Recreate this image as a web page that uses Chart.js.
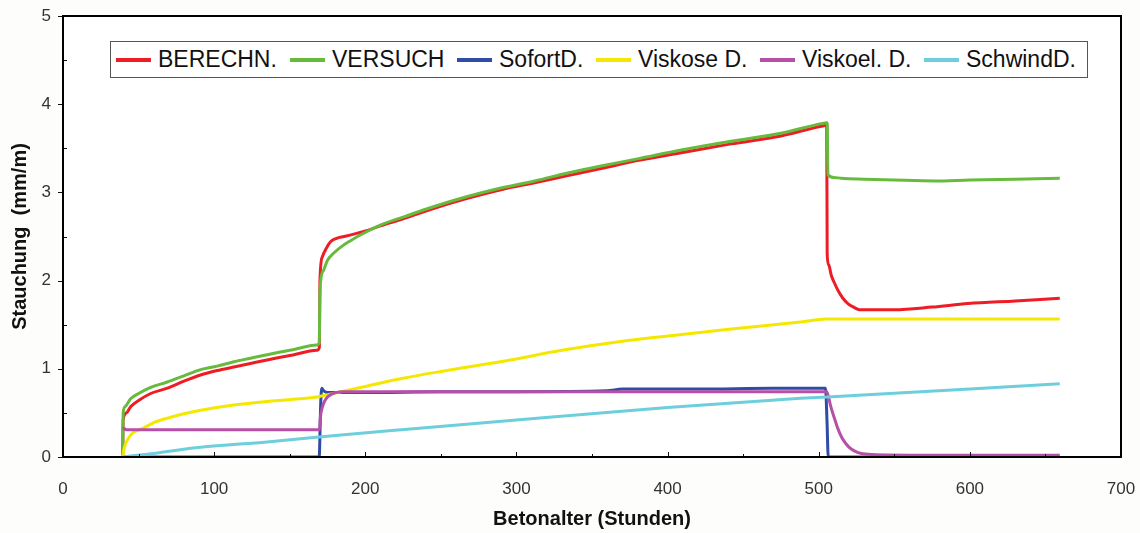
<!DOCTYPE html>
<html>
<head>
<meta charset="utf-8">
<script src="https://cdn.jsdelivr.net/npm/chart.js@4/dist/chart.umd.min.js"></script>
<style>
  html, body { margin: 0; padding: 0; background: #fdfdfb; }
  #wrap { position: relative; width: 1140px; height: 533px; }
  #legend {
    position: absolute; left: 110px; top: 41px; width: 976px; height: 35px;
    border: 1px solid #555; background: #fff;
    font-family: "Liberation Sans", Arial, sans-serif; font-size: 23px; color: #111;
  }
  .lg-item { position: absolute; top: 0; height: 35px; display: flex; align-items: center; white-space: nowrap; }
  .lg-line { width: 35px; height: 4px; margin-right: 7px; }
</style>
</head>
<body>
<div id="wrap">
  <canvas id="chart" width="1140" height="533"></canvas>
  <div id="legend"></div>
</div>
<script>
// Creep test: computed vs measured compression and its components over concrete age.

const LABELS = ["BERECHN.", "VERSUCH", "SofortD.", "Viskose D.", "Viskoel. D.", "SchwindD."];
const COLORS = ["#ee1c24", "#66bb3d", "#2f4ca6", "#f4e800", "#b64fa6", "#6dcfdc"];

const X_TICKS = [0, 100, 200, 300, 400, 500, 600, 700];
const Y_TICKS = [0, 1, 2, 3, 4, 5];

// BERECHN. (computed)
const berechnX = [39.5, 39.8, 42, 44.7, 50, 58, 69, 80, 91, 102, 113, 124, 135, 150, 168, 169.6,
  170, 171.6, 174, 177, 181, 186, 193, 201.5, 210, 225, 245.6, 267, 289.7, 312, 334, 356, 380,
  409, 442, 475, 501.7, 505.3, 505.6, 506.6, 508.3, 510.5, 512.7, 516, 519.3, 523, 527, 535, 550, 575,
  598.8, 630, 659.5];
const berechnY = [0, 0.42, 0.50, 0.57, 0.64, 0.72, 0.78, 0.86, 0.93, 0.98, 1.02, 1.06, 1.10, 1.15, 1.21, 1.24,
  2.0, 2.27, 2.36, 2.44, 2.48, 2.50, 2.53, 2.57, 2.62, 2.70, 2.82, 2.93, 3.03, 3.11, 3.19, 3.27, 3.36,
  3.45, 3.55, 3.64, 3.75, 3.76, 2.30, 2.18, 2.06, 1.97, 1.89, 1.80, 1.74, 1.70, 1.67, 1.67, 1.67, 1.70,
  1.74, 1.77, 1.80];

// VERSUCH (measured)
const versuchX = [39.5, 39.8, 41, 44.7, 50, 58, 69, 80, 91, 102, 113, 124, 135, 150, 168, 169.6,
  169.9, 170.5, 172.5, 175, 179, 183.8, 190, 197, 210, 225, 245.6, 267, 289.7, 312, 334, 356, 380,
  409, 442, 475, 501.7, 505.6, 506.1, 510, 515, 530, 550, 576.7, 600, 630, 659.5];
const versuchY = [0, 0.50, 0.57, 0.66, 0.72, 0.79, 0.85, 0.92, 0.99, 1.03, 1.08, 1.12, 1.16, 1.21, 1.27, 1.30,
  1.78, 2.0, 2.12, 2.23, 2.31, 2.38, 2.45, 2.52, 2.63, 2.72, 2.84, 2.95, 3.05, 3.13, 3.22, 3.30, 3.38,
  3.48, 3.58, 3.67, 3.78, 3.79, 3.20, 3.17, 3.16, 3.15, 3.14, 3.13, 3.14, 3.15, 3.16];

// SofortD. (instant)
const sofortX = [39.5, 169.5, 170.5, 171.2, 172.5, 175, 200, 250, 300, 360, 370, 420, 470, 504.5, 505.5, 506.3, 659.5];
const sofortY = [0, 0, 0.60, 0.78, 0.75, 0.73, 0.73, 0.74, 0.74, 0.75, 0.77, 0.77, 0.78, 0.78, 0.40, 0, 0];

// Viskose D. (viscous)
const viskoseX = [39.5, 40.5, 42.5, 46, 53.5, 60, 69, 80, 91, 113, 135, 150, 168, 176, 184, 200,
  224, 250, 296, 330, 369, 405, 442, 488, 505, 659.5];
const viskoseY = [0, 0.10, 0.19, 0.27, 0.33, 0.39, 0.44, 0.49, 0.53, 0.59, 0.63, 0.65, 0.68, 0.71, 0.74, 0.80,
  0.89, 0.97, 1.10, 1.21, 1.31, 1.38, 1.45, 1.53, 1.565, 1.565];

// Viskoel. D. (visco-elastic)
const viskoelX = [39.5, 42, 169.7, 170.3, 171.5, 173, 175, 177.5, 180.5, 185, 250, 360, 380, 505.3,
  506.5, 508, 510, 512.5, 515, 518, 521.5, 526, 532.6, 560, 600, 659.5];
const viskoelY = [0.33, 0.31, 0.31, 0.45, 0.56, 0.63, 0.68, 0.71, 0.73, 0.74, 0.74, 0.74, 0.74, 0.74,
  0.68, 0.57, 0.46, 0.33, 0.23, 0.15, 0.09, 0.05, 0.03, 0.02, 0.02, 0.02];

// SchwindD. (shrinkage)
const schwindX = [39.5, 60, 91, 135, 184, 224, 300, 400, 488, 515, 600, 659.5];
const schwindY = [0, 0.04, 0.11, 0.17, 0.25, 0.31, 0.42, 0.56, 0.665, 0.69, 0.77, 0.83];

const SERIES_X = [berechnX, versuchX, sofortX, viskoseX, viskoelX, schwindX];
const SERIES_Y = [berechnY, versuchY, sofortY, viskoseY, viskoelY, schwindY];

// legend sample positions (px inside the box)
const LEGEND_LEFT = [5, 179, 346, 485, 649, 813];

const FONT = "'Liberation Sans', Arial, sans-serif";
Chart.defaults.font.family = FONT;

// plot frame + Excel-like tick marks (major y outside, rest inside)
const frameTicks = {
  id: "frameTicks",
  beforeDatasetsDraw(chart) {
    const a = chart.chartArea, ctx = chart.ctx;
    ctx.save();
    ctx.fillStyle = "#ffffff";
    ctx.fillRect(a.left, a.top, a.right - a.left, a.bottom - a.top);
    ctx.restore();
  },
  afterDatasetsDraw(chart) {
    const a = chart.chartArea, ctx = chart.ctx;
    const xs = chart.scales.x, ys = chart.scales.y;
    ctx.save();
    ctx.strokeStyle = "#111";
    ctx.lineWidth = 1;
    ctx.beginPath();
    for (let v = 0; v <= 5; v += 0.5) {
      const py = Math.round(ys.getPixelForValue(v)) + 0.5;
      if (v % 1 === 0) { ctx.moveTo(a.left - 5, py); ctx.lineTo(a.left, py); }
      else { ctx.moveTo(a.left, py); ctx.lineTo(a.left + 4, py); }
    }
    for (let v = 50; v < 700; v += 50) {
      const px = Math.round(xs.getPixelForValue(v)) + 0.5;
      ctx.moveTo(px, a.bottom);
      ctx.lineTo(px, a.bottom - (v % 100 === 0 ? 5 : 3));
    }
    ctx.stroke();
    ctx.lineWidth = 2;
    ctx.strokeStyle = "#000";
    ctx.strokeRect(a.left, a.top, a.right - a.left, a.bottom - a.top);
    ctx.restore();
  }
};

const datasets = LABELS.map(function (label, i) {
  return {
    label: label,
    data: SERIES_X[i].map(function (x, j) { return { x: x, y: SERIES_Y[i][j] }; }),
    showLine: true,
    borderColor: COLORS[i],
    backgroundColor: COLORS[i],
    borderWidth: 3,
    pointRadius: 0,
    fill: false,
    cubicInterpolationMode: "monotone",
    order: LABELS.length - i
  };
});

new Chart(document.getElementById("chart").getContext("2d"), {
  type: "scatter",
  data: { datasets: datasets },
  options: {
    responsive: false,
    animation: false,
    layout: { padding: { top: 16, right: 19, left: 0, bottom: 0 } },
    plugins: { legend: { display: false }, tooltip: { enabled: false } },
    scales: {
      x: {
        type: "linear", min: 0, max: 700,
        afterBuildTicks: function (s) { s.ticks = X_TICKS.map(function (v) { return { value: v }; }); },
        afterFit: function (s) { s.height = 76; s.paddingLeft = 0; s.paddingRight = 0; },
        grid: { display: false, drawTicks: false },
        border: { display: false },
        ticks: { color: "#333", font: { size: 17 }, padding: 22, maxRotation: 0 },
        title: { display: true, text: "Betonalter (Stunden)", color: "#111",
                 font: { size: 20, weight: "bold" }, padding: { top: 0, bottom: 2 } }
      },
      y: {
        type: "linear", min: 0, max: 5,
        afterBuildTicks: function (s) { s.ticks = Y_TICKS.map(function (v) { return { value: v }; }); },
        afterFit: function (s) { s.width = 63; s.paddingTop = 0; s.paddingBottom = 0; },
        grid: { display: false, drawTicks: false },
        border: { display: false },
        ticks: { color: "#333", font: { size: 17 }, padding: 12 },
        title: { display: true, text: "Stauchung  (mm/m)", color: "#111",
                 font: { size: 20, weight: "bold" }, padding: { top: 8, bottom: 0 } }
      }
    }
  },
  plugins: [frameTicks]
});

// legend inside the plot, built from the datasets
const legend = document.getElementById("legend");
LABELS.forEach(function (label, i) {
  const item = document.createElement("div");
  item.className = "lg-item";
  item.style.left = LEGEND_LEFT[i] + "px";
  item.innerHTML = '<span class="lg-line" style="background:' + COLORS[i] + '"></span><span>' + label + '</span>';
  legend.appendChild(item);
});
</script>
</body>
</html>
